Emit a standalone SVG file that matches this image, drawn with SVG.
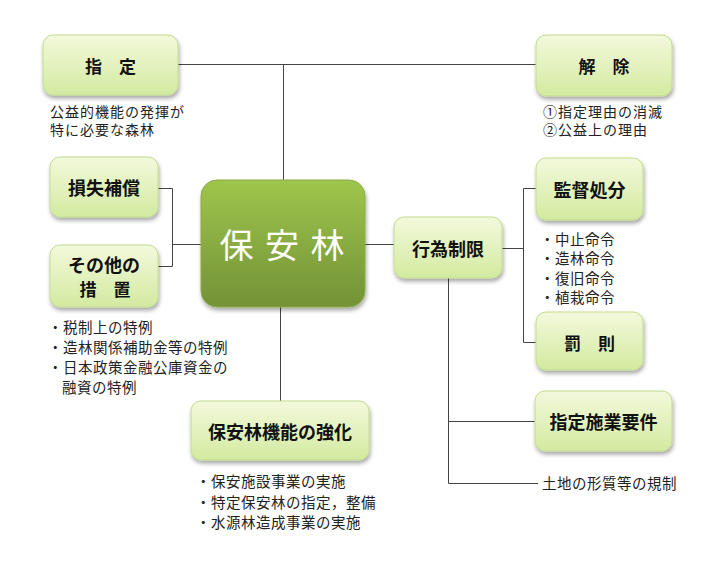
<svg xmlns="http://www.w3.org/2000/svg" width="720" height="576" viewBox="0 0 720 576">
<defs>
<linearGradient id="gLight" x1="0" y1="0" x2="0" y2="1">
<stop offset="0" stop-color="#f3f9dc"/>
<stop offset="1" stop-color="#d3eaa0"/>
</linearGradient>
<linearGradient id="gDark" x1="0" y1="0" x2="0" y2="1">
<stop offset="0" stop-color="#9fc54c"/>
<stop offset="1" stop-color="#739237"/>
</linearGradient>
<filter id="sh" x="-10%" y="-10%" width="125%" height="130%">
<feGaussianBlur in="SourceAlpha" stdDeviation="2"/>
<feOffset dx="1" dy="3" result="b"/>
<feComponentTransfer><feFuncA type="linear" slope="0.35"/></feComponentTransfer>
<feMerge><feMergeNode/><feMergeNode in="SourceGraphic"/></feMerge>
</filter>
</defs>
<style>
.box{fill:url(#gLight);stroke:#c3dc8e;stroke-width:1;filter:url(#sh)}
.main{fill:url(#gDark);stroke:#8aab45;stroke-width:1;filter:url(#sh)}
.lbl{font-family:"Noto Sans CJK JP","Noto Sans CJK SC",sans-serif;font-size:18px;font-weight:bold;fill:#111;text-anchor:middle;dominant-baseline:central}
.sp{font-size:17px}
.note{font-family:"Noto Sans CJK JP","Noto Sans CJK SC",sans-serif;font-size:14.5px;fill:#222;letter-spacing:0.5px;dominant-baseline:central}
.n2{font-size:14px;letter-spacing:1px}
.ln{fill:none;stroke:#444;stroke-width:1}
</style>
<rect width="720" height="576" fill="#fff"/>
<g id="connectors">
<path class="ln" d="M178 64.5H536M283.5 64.5V180"/>
<path class="ln" d="M158 188.5H172.5V266.5H158M172.5 244.5H201"/>
<path class="ln" d="M365 244.5H394"/>
<path class="ln" d="M502 248.5H523.5M536 188.5H523.5V342.5H536"/>
<path class="ln" d="M448.5 278V483.5H538M448.5 421.5H535"/>
<path class="ln" d="M280.5 307V401"/>
</g>
<g id="node-shitei">
<rect class="box" x="43" y="35" width="135" height="60" rx="10"/>
<text class="lbl sp" x="110.5" y="65">指　定</text>
</g>
<text class="note n2" x="50" y="111">公益的機能の発揮が</text>
<text class="note n2" x="50" y="129">特に必要な森林</text>
<g id="node-kaijo">
<rect class="box" x="536" y="35" width="136" height="61" rx="10"/>
<text class="lbl sp" x="604" y="65">解　除</text>
</g>
<text class="note n2" x="543" y="111">①指定理由の消滅</text>
<text class="note n2" x="543" y="129">②公益上の理由</text>
<g id="node-sonshitsu">
<rect class="box" x="50" y="157" width="108" height="60" rx="10"/>
<text class="lbl" x="104" y="187">損失補償</text>
</g>
<g id="node-sonota">
<rect class="box" x="50" y="245" width="108" height="62" rx="10"/>
<text class="lbl" x="104" y="264">その他の</text>
<text class="lbl sp" x="105" y="288">措　置</text>
</g>
<text class="note" x="48" y="326">・税制上の特例</text>
<text class="note" x="48" y="346">・造林関係補助金等の特例</text>
<text class="note" x="48" y="366">・日本政策金融公庫資金の</text>
<text class="note" x="62" y="386">融資の特例</text>
<g id="node-hoanrin">
<rect class="main" x="201" y="180" width="164" height="127" rx="16"/>
<text x="283" y="243" font-family="Noto Sans CJK JP,Noto Sans CJK SC,sans-serif" font-size="34" fill="#fff" text-anchor="middle" dominant-baseline="central" letter-spacing="2">保 安 林</text>
</g>
<g id="node-koui">
<rect class="box" x="394" y="217" width="108" height="61" rx="10"/>
<text class="lbl" x="448" y="248" font-weight="500">行為制限</text>
</g>
<g id="node-kantoku">
<rect class="box" x="536" y="158" width="107" height="62" rx="10"/>
<text class="lbl" x="589.5" y="189">監督処分</text>
</g>
<text class="note" x="540" y="238">・中止命令</text>
<text class="note" x="540" y="257">・造林命令</text>
<text class="note" x="540" y="277">・復旧命令</text>
<text class="note" x="540" y="296">・植栽命令</text>
<g id="node-bassoku">
<rect class="box" x="536" y="312" width="107" height="58" rx="10"/>
<text class="lbl sp" x="589.5" y="342">罰　則</text>
</g>
<g id="node-shitei-sekyo">
<rect class="box" x="535" y="391" width="137" height="60" rx="10"/>
<text class="lbl" x="603.5" y="421">指定施業要件</text>
</g>
<text class="note" x="542" y="482">土地の形質等の規制</text>
<g id="node-kyoka">
<rect class="box" x="191" y="401" width="178" height="59" rx="10"/>
<text class="lbl" x="280" y="431">保安林機能の強化</text>
</g>
<text class="note" x="196" y="480">・保安施設事業の実施</text>
<text class="note" x="196" y="501">・特定保安林の指定，整備</text>
<text class="note" x="196" y="521">・水源林造成事業の実施</text>
</svg>
